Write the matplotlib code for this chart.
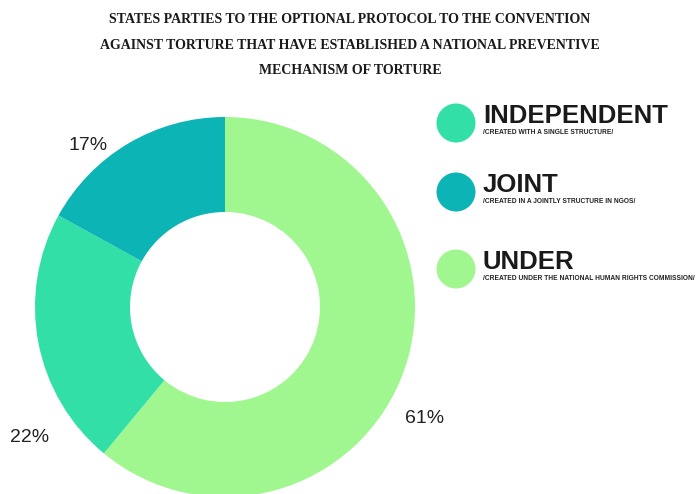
import matplotlib
matplotlib.use("Agg")
import matplotlib.pyplot as plt
from matplotlib.patches import Circle

title = ("STATES PARTIES TO THE OPTIONAL PROTOCOL TO THE CONVENTION\n"
         "AGAINST TORTURE THAT HAVE ESTABLISHED A NATIONAL PREVENTIVE\n"
         "MECHANISM OF TORTURE")

# order drawn clockwise from 12 o'clock
categories = ["UNDER", "INDEPENDENT", "JOINT"]
values = [61, 22, 17]
colors = ["#A0F78F", "#31DFA7", "#0CB4B6"]

legend_names = ["INDEPENDENT", "JOINT", "UNDER"]
legend_notes = ["/CREATED WITH A SINGLE STRUCTURE/",
                "/CREATED IN A JOINTLY STRUCTURE IN NGOS/",
                "/CREATED UNDER THE NATIONAL HUMAN RIGHTS COMMISSION/"]
legend_colors = ["#31DFA7", "#0CB4B6", "#A0F78F"]

W, H = 700, 494
fig = plt.figure(figsize=(7, 4.94), dpi=100)
ax = fig.add_axes([0, 0, 1, 1])

cx, cy, R = 225, H - 307, 190
wedges, _ = ax.pie(values, colors=colors, startangle=90, counterclock=False,
                   center=(cx, cy), radius=R,
                   wedgeprops=dict(width=R * 0.5, linewidth=0))

# percentage labels (offsets from centre, in pixels)
label_offsets = {"UNDER": (200, -111), "INDEPENDENT": (-195, -130), "JOINT": (-137, 162)}
for cat, v in zip(categories, values):
    dx, dy = label_offsets[cat]
    ax.text(cx + dx, cy + dy, f"{v}%", ha="center", va="center",
            fontsize=14, color="#222222", family="Liberation Sans")

# legend
leg_y = [123, 192, 269]
for name, note, col, y in zip(legend_names, legend_notes, legend_colors, leg_y):
    yy = H - y
    ax.add_patch(Circle((456, yy), 19.5, color=col, lw=0))
    ax.text(483, yy + 0, name, ha="left", va="baseline", fontsize=18.5,
            fontweight="bold", color="#1a1a1a", family="Liberation Sans")
    ax.text(483, yy - 11, note, ha="left", va="baseline", fontsize=4.8,
            fontweight="bold", color="#222222", family="Liberation Sans")

ax.text(350, H - 45.5, title, ha="center", va="center", fontsize=10,
        fontweight="bold", family="Liberation Serif", color="#1a1a1a",
        linespacing=2.25)

ax.set_xlim(0, W)
ax.set_ylim(0, H)
ax.set_aspect("auto")
ax.axis("off")
fig.savefig("out.png", dpi=100, facecolor="white")
